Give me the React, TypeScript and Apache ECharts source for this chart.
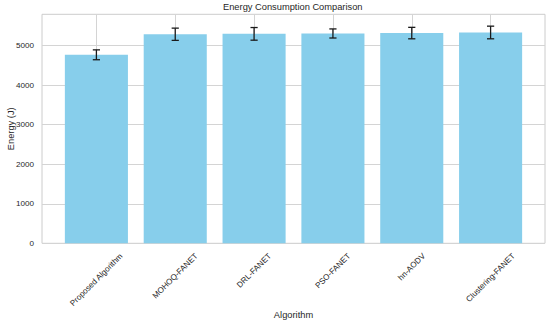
import React, { useEffect, useRef } from "react";
import * as echarts from "echarts";

const categories = [
  "Proposed Algorithm",
  "MOHOQ-FANET",
  "DRL-FANET",
  "PSO-FANET",
  "hn-AODV",
  "Clustering-FANET",
];
const energyValues = [4770, 5290, 5300, 5310, 5320, 5335];
const energyErrors = [125, 155, 160, 115, 145, 160];
const yTickValues = [0, 1000, 2000, 3000, 4000, 5000];
const xTickValues = [0, 1, 2, 3, 4, 5];

const FONT = '"Liberation Sans", Arial, sans-serif';
const TEXT = "#262626";
const GRID = "#d4d4d4";
const LABEL_SIZE = 8.1;
const NAME_SIZE = 9.3;
const BAR_WIDTH = 0.8;

export default function App() {
  const ref = useRef<HTMLDivElement>(null);

  useEffect(() => {
    if (!ref.current) return;
    const chart = echarts.init(ref.current, null, { renderer: "svg" });
    const ctx = document.createElement("canvas").getContext("2d");
    const measure = (s: string) => {
      if (!ctx) return s.length * LABEL_SIZE * 0.55;
      ctx.font = `${LABEL_SIZE}px ${FONT}`;
      return ctx.measureText(s).width;
    };

    const option: any = {
      animation: false,
      backgroundColor: "#ffffff",
      title: {
        text: "Energy Consumption Comparison",
        left: 223,
        top: 2,
        padding: 0,
        textStyle: {
          fontSize: NAME_SIZE,
          fontWeight: "normal",
          color: TEXT,
          fontFamily: FONT,
        },
      },
      grid: {
        left: 42,
        right: 5,
        top: 14.3,
        bottom: 81.7,
        show: true,
        containLabel: false,
        outerBoundsMode: "none",
        borderColor: "#cccccc",
        borderWidth: 1,
        backgroundColor: "transparent",
      },
      xAxis: {
        type: "value",
        min: -0.69,
        max: 5.69,
        name: "Algorithm",
        nameLocation: "middle",
        nameGap: 67,
        nameMoveOverlap: false,
        nameTextStyle: { fontSize: NAME_SIZE, color: TEXT, fontFamily: FONT },
        axisLine: { show: false },
        axisTick: { show: false, customValues: xTickValues },
        axisLabel: { show: false, customValues: xTickValues },
        splitLine: { show: true, lineStyle: { color: GRID, width: 1 } },
      },
      yAxis: {
        type: "value",
        min: 0,
        max: 5795,
        name: "Energy (J)",
        nameLocation: "middle",
        nameGap: 27,
        nameMoveOverlap: false,
        nameTextStyle: { fontSize: NAME_SIZE, color: TEXT, fontFamily: FONT },
        axisLine: { show: false },
        axisTick: { show: false, customValues: yTickValues },
        axisLabel: {
          customValues: yTickValues,
          formatter: (v: number) => String(v),
          fontSize: LABEL_SIZE,
          color: TEXT,
          fontFamily: FONT,
          margin: 8,
        },
        splitLine: { show: true, lineStyle: { color: GRID, width: 1 } },
      },
      series: [
        {
          type: "custom",
          data: energyValues.map((v, i) => [i, v]),
          encode: { x: 0, y: 1 },
          silent: true,
          z: 2,
          renderItem: (params: any, api: any) => {
            const i = api.value(0);
            const v = api.value(1);
            const tl = api.coord([i - BAR_WIDTH / 2, v]);
            const br = api.coord([i + BAR_WIDTH / 2, 0]);
            return {
              type: "rect",
              shape: { x: tl[0], y: tl[1], width: br[0] - tl[0], height: br[1] - tl[1] },
              style: { fill: "#87CEEB" },
            };
          },
        },
        {
          type: "custom",
          data: energyValues.map((v, i) => [i, v - energyErrors[i], v + energyErrors[i]]),
          encode: { x: 0, y: [1, 2] },
          silent: true,
          z: 3,
          renderItem: (params: any, api: any) => {
            const i = api.value(0);
            const lo = api.coord([i, api.value(1)]);
            const hi = api.coord([i, api.value(2)]);
            const cap = 3.6;
            const style = { stroke: "#1a1a1a", lineWidth: 1.3 };
            return {
              type: "group",
              children: [
                { type: "line", shape: { x1: lo[0], y1: lo[1], x2: hi[0], y2: hi[1] }, style },
                { type: "line", shape: { x1: hi[0] - cap, y1: hi[1], x2: hi[0] + cap, y2: hi[1] }, style },
                { type: "line", shape: { x1: lo[0] - cap, y1: lo[1], x2: lo[0] + cap, y2: lo[1] }, style },
              ],
            };
          },
        },
        {
          type: "custom",
          data: categories.map((c, i) => [i, 0]),
          encode: { x: 0, y: 1 },
          silent: true,
          clip: false,
          z: 4,
          renderItem: (params: any, api: any) => {
            const i = api.value(0);
            const p = api.coord([i, 0]);
            const name = categories[i];
            const w = measure(name);
            const half = (w + LABEL_SIZE) / (2 * Math.SQRT2);
            return {
              type: "text",
              x: p[0],
              y: p[1] + 8.5 + half,
              rotation: Math.PI / 4,
              style: {
                text: name,
                align: "center",
                verticalAlign: "middle",
                fontSize: LABEL_SIZE,
                fontFamily: FONT,
                fill: TEXT,
              },
            };
          },
        },
      ],
    };

    chart.setOption(option);
    return () => chart.dispose();
  }, []);

  return (
    <div
      ref={ref}
      style={{ position: "fixed", left: 0, top: 0, width: 550, height: 325 }}
    />
  );
}
